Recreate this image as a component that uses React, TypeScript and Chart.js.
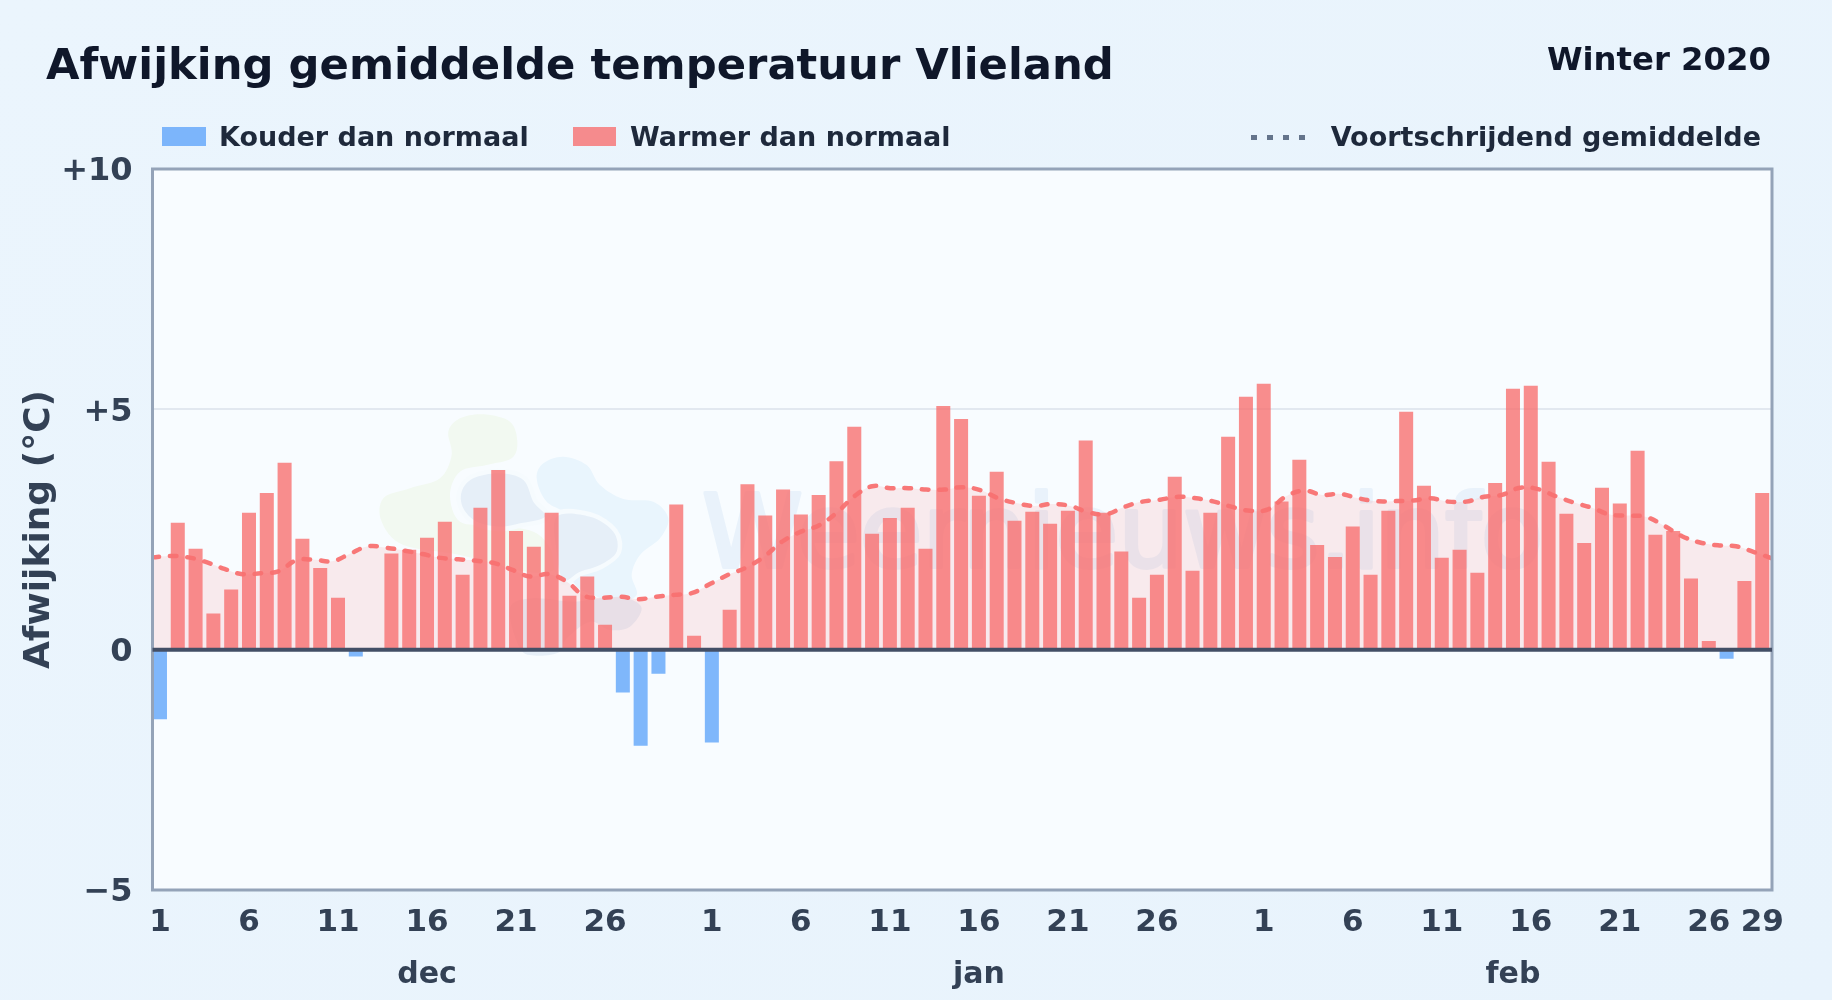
import React, { useEffect, useRef } from "react";
import { Chart, registerables } from "chart.js";

Chart.register(...registerables);

const dayLabels: string[] = [
  "1","2","3","4","5","6","7","8","9","10","11","12","13","14","15","16","17","18","19","20","21","22","23","24","25","26","27","28","29","30","31",
  "1","2","3","4","5","6","7","8","9","10","11","12","13","14","15","16","17","18","19","20","21","22","23","24","25","26","27","28","29","30","31",
  "1","2","3","4","5","6","7","8","9","10","11","12","13","14","15","16","17","18","19","20","21","22","23","24","25","26","27","28","29",
];
const xTickIndexes = [0,5,10,15,20,25,31,36,41,46,51,56,62,67,72,77,82,87,90];
const monthNames = ["dec", "jan", "feb"];
const monthCentres = [15, 46, 76];
const yTickValues = [-5, 0, 5, 10];
const yTickLabels = ["−5", "0", "+5", "+10"];

const deviation: (number | null)[] = [
  -1.45,2.64,2.10,0.75,1.25,2.85,3.26,3.89,2.31,1.70,1.08,-0.14,null,2.00,2.08,2.33,2.66,1.56,2.95,3.74,2.47,2.14,2.85,1.12,1.52,0.52,-0.89,-2.00,-0.50,3.02,0.29,
  -1.93,0.83,3.44,2.79,3.33,2.81,3.22,3.92,4.64,2.41,2.74,2.95,2.10,5.07,4.80,3.20,3.70,2.68,2.87,2.62,2.89,4.35,2.85,2.04,1.08,1.56,3.60,1.64,2.85,4.43,5.26,
  5.53,3.08,3.95,2.18,1.93,2.56,1.56,2.89,4.95,3.41,1.91,2.08,1.60,3.47,5.43,5.49,3.91,2.83,2.22,3.37,3.04,4.14,2.39,2.47,1.48,0.18,-0.19,1.43,3.26,
];
const movingAverage: number[] = [
  1.92,1.95,1.92,1.82,1.68,1.57,1.59,1.63,1.86,1.87,1.84,2.00,2.15,2.12,2.06,1.99,1.91,1.88,1.85,1.80,1.66,1.52,1.57,1.42,1.12,1.08,1.10,1.05,1.10,1.14,1.18,
  1.37,1.56,1.71,1.94,2.25,2.45,2.58,2.84,3.19,3.40,3.36,3.36,3.33,3.33,3.38,3.32,3.15,3.05,2.99,3.03,2.99,2.86,2.82,2.97,3.08,3.12,3.18,3.15,3.08,2.97,2.89,
  2.92,3.19,3.31,3.22,3.24,3.15,3.09,3.09,3.10,3.15,3.08,3.08,3.18,3.22,3.37,3.34,3.19,3.06,2.95,2.81,2.79,2.76,2.58,2.36,2.23,2.17,2.15,2.03,1.90,
];

const FONT = "'DejaVu Sans', sans-serif";
const COLD = "rgba(96,165,250,0.8)";
const WARM = "rgba(248,113,113,0.8)";

// Outlines of the faint background logo, in a local grid
const logoGreen = [[370,58],[450,80],[472,140],[455,190],[380,210],[300,230],[270,300],[300,380],[400,390],[520,410],[570,460],[590,520],[500,530],[300,480],[130,450],[65,380],[70,310],[150,280],[240,250],[275,180],[265,110],[300,70]];
const logoLight = [[610,185],[680,210],[720,270],[790,312],[880,320],[925,370],[900,430],[840,480],[815,540],[830,600],[770,620],[700,600],[640,560],[620,450],[640,370],[560,320],[530,250],[550,205]];
const logoDark = [
  [[305,290],[340,250],[420,235],[490,255],[520,320],[555,365],[480,385],[420,395],[350,380],[310,340]],
  [[590,365],[690,365],[760,410],[770,470],[720,510],[660,530],[610,555],[590,470]],
  [[450,640],[520,610],[640,620],[720,610],[800,610],[845,640],[810,695],[750,705],[690,680],[620,730],[600,770],[530,782],[480,760]],
];

function blob(ctx: CanvasRenderingContext2D, pts: number[][]) {
  const map = (p: number[]) => [360 + p[0] / 3, 395 + p[1] / 3];
  const n = pts.length;
  ctx.beginPath();
  const s = map(pts[0]);
  ctx.moveTo(s[0], s[1]);
  for (let i = 0; i < n; i++) {
    const p0 = map(pts[(i - 1 + n) % n]);
    const p1 = map(pts[i]);
    const p2 = map(pts[(i + 1) % n]);
    const p3 = map(pts[(i + 2) % n]);
    ctx.bezierCurveTo(
      p1[0] + (p2[0] - p0[0]) / 6, p1[1] + (p2[1] - p0[1]) / 6,
      p2[0] - (p3[0] - p1[0]) / 6, p2[1] - (p3[1] - p1[1]) / 6,
      p2[0], p2[1],
    );
  }
  ctx.closePath();
}

const framePlugin = {
  id: "frame",
  afterUpdate(chart: any) {
    chart.scales.y.getLabelItems().forEach((item: any) => {
      item.options.translation[1] += 3;
    });
  },
  afterDatasetsDraw(chart: any) {
    const { ctx, chartArea: a, scales } = chart;
    ctx.save();
    ctx.strokeStyle = "#94a3b8";
    ctx.lineWidth = 3;
    ctx.strokeRect(a.left, a.top, a.right - a.left, a.bottom - a.top);
    const y0 = scales.y.getPixelForValue(0);
    ctx.strokeStyle = "#434f66";
    ctx.lineWidth = 4;
    ctx.beginPath();
    ctx.moveTo(a.left, y0);
    ctx.lineTo(a.right, y0);
    ctx.stroke();
    ctx.restore();
  },
};

const plotBackground = {
  id: "plotBackground",
  beforeDraw(chart: any) {
    const { ctx, chartArea: a } = chart;
    ctx.save();
    ctx.fillStyle = "#f8fcff";
    ctx.fillRect(a.left, a.top, a.right - a.left, a.bottom - a.top);
    ctx.beginPath();
    ctx.rect(a.left, a.top, a.right - a.left, a.bottom - a.top);
    ctx.clip();
    ctx.fillStyle = "#f2f9f1";
    blob(ctx, logoGreen);
    ctx.fill();
    ctx.fillStyle = "#e9f5fd";
    blob(ctx, logoLight);
    ctx.fill();
    ctx.fillStyle = "#e6eff8";
    ctx.strokeStyle = "#f6fbfe";
    ctx.lineWidth = 9;
    logoDark.forEach((pts, i) => {
      blob(ctx, pts);
      if (i < 2) ctx.stroke();
      ctx.fill();
    });
    ctx.fillStyle = "#e9f2fb";
    ctx.strokeStyle = "#e9f2fb";
    ctx.lineWidth = 4;
    ctx.lineJoin = "round";
    ctx.font = `102px ${FONT}`;
    ctx.textBaseline = "alphabetic";
    ctx.textAlign = "left";
    ctx.fillText("Weernieuws.info", 702, 567);
    ctx.strokeText("Weernieuws.info", 702, 567);
    ctx.restore();
  },
};

const fixedSize = (size: number, key: "width" | "height") => (scale: any) => {
  scale[key] = size;
};

export default function App() {
  const ref = useRef<HTMLCanvasElement | null>(null);

  useEffect(() => {
    document.body.style.margin = "0";
    const chart = new Chart(ref.current as HTMLCanvasElement, {
      type: "bar",
      data: {
        labels: dayLabels,
        datasets: [
          {
            type: "line",
            label: "Voortschrijdend gemiddelde",
            data: movingAverage.map((v, i) => ({ x: i, y: v })),
            xAxisID: "xLine",
            borderColor: "rgba(248,113,113,0.95)",
            backgroundColor: "rgba(248,113,113,0.13)",
            borderWidth: 4.5,
            borderDash: [6.5, 11],
            borderCapStyle: "round",
            pointRadius: 0,
            tension: 0.4,
            fill: { target: { value: 0 } },
            order: 1,
          },
          {
            type: "bar",
            label: "Afwijking",
            data: deviation.map((v, i) => ({ x: i, y: v })),
            xAxisID: "x",
            backgroundColor: deviation.map((v) => (v !== null && v < 0 ? COLD : WARM)),
            grouped: false,
            barPercentage: 0.787,
            categoryPercentage: 1,
            order: 2,
          },
        ],
      } as any,
      options: {
        animation: false,
        responsive: false,
        devicePixelRatio: 1,
        layout: { padding: { top: 169, right: 60, bottom: 0, left: 0 } },
        plugins: {
          legend: { display: false },
          tooltip: { enabled: false },
          filler: { drawTime: "beforeDatasetsDraw" },
        },
        scales: {
          x: {
            type: "linear",
            offset: false,
            min: -0.42,
            max: 90.55,
            position: "bottom",
            afterFit: fixedSize(55, "height"),
            afterBuildTicks: (s: any) => {
              s.ticks = xTickIndexes.map((value) => ({ value }));
            },
            grid: { display: false, drawTicks: false },
            border: { display: false },
            ticks: {
              autoSkip: false,
              maxRotation: 0,
              padding: 14,
              color: "#334155",
              font: { family: FONT, size: 31, weight: "bold" },
              callback: (v: any) => dayLabels[Number(v)],
            },
          },
          xMonth: {
            type: "linear",
            offset: false,
            min: -0.42,
            max: 90.55,
            position: "bottom",
            afterFit: fixedSize(55, "height"),
            afterBuildTicks: (s: any) => {
              s.ticks = monthCentres.map((value) => ({ value }));
            },
            grid: { display: false, drawTicks: false },
            border: { display: false },
            ticks: {
              autoSkip: false,
              maxRotation: 0,
              padding: 12,
              color: "#334155",
              font: { family: FONT, size: 30, weight: "bold" },
              callback: (v: any) => monthNames[monthCentres.indexOf(Number(v))],
            },
          },
          xLine: { type: "linear", offset: false, min: 0, max: 90, display: false },
          y: {
            min: -5,
            max: 10,
            afterFit: fixedSize(152.5, "width"),
            afterBuildTicks: (s: any) => {
              s.ticks = yTickValues.map((value) => ({ value }));
            },
            grid: {
              color: (c: any) => (c.tick && c.tick.value === 5 ? "#e2e8f0" : "rgba(0,0,0,0)"),
              lineWidth: 2,
              drawTicks: false,
            },
            border: { display: false },
            title: {
              display: true,
              text: "Afwijking (°C)",
              color: "#334155",
              padding: { top: 18, bottom: 8 },
              font: { family: FONT, size: 36, weight: "bold" },
            },
            ticks: {
              padding: 20,
              color: "#334155",
              font: { family: FONT, size: 32, weight: "bold" },
              callback: (v: any) => yTickLabels[yTickValues.indexOf(Number(v))],
            },
          },
        },
      } as any,
      plugins: [plotBackground, framePlugin],
    });
    return () => chart.destroy();
  }, []);

  const text = (extra: React.CSSProperties): React.CSSProperties => ({
    position: "absolute",
    fontFamily: FONT,
    fontWeight: 700,
    whiteSpace: "nowrap",
    lineHeight: 1,
    ...extra,
  });

  return (
    <div
      style={{
        position: "relative",
        width: 1832,
        height: 1000,
        overflow: "hidden",
        background: "linear-gradient(135deg,#ebf5fd 0%,#e8f3fc 100%)",
      }}
    >
      <canvas ref={ref} width={1832} height={1000} style={{ position: "absolute", left: 0, top: 0 }} />
      <div style={text({ left: 46, top: 43, fontSize: 43.3, color: "#0f172a" })}>Afwijking gemiddelde temperatuur Vlieland</div>
      <div style={text({ right: 61, top: 43, fontSize: 32.3, color: "#0f172a" })}>Winter 2020</div>
      <div style={{ position: "absolute", left: 162, top: 127, width: 44, height: 19, background: COLD }} />
      <div style={text({ left: 219, top: 123, fontSize: 27, color: "#1e293b" })}>Kouder dan normaal</div>
      <div style={{ position: "absolute", left: 573, top: 127, width: 43, height: 19, background: WARM }} />
      <div style={text({ left: 630, top: 123, fontSize: 27, color: "#1e293b" })}>Warmer dan normaal</div>
      <div
        style={{
          position: "absolute",
          left: 1251,
          top: 135,
          width: 58,
          height: 5,
          background: "repeating-linear-gradient(90deg,#64748b 0 6px,transparent 6px 16px)",
        }}
      />
      <div style={text({ right: 71, top: 123, fontSize: 27, color: "#1e293b" })}>Voortschrijdend gemiddelde</div>
    </div>
  );
}
